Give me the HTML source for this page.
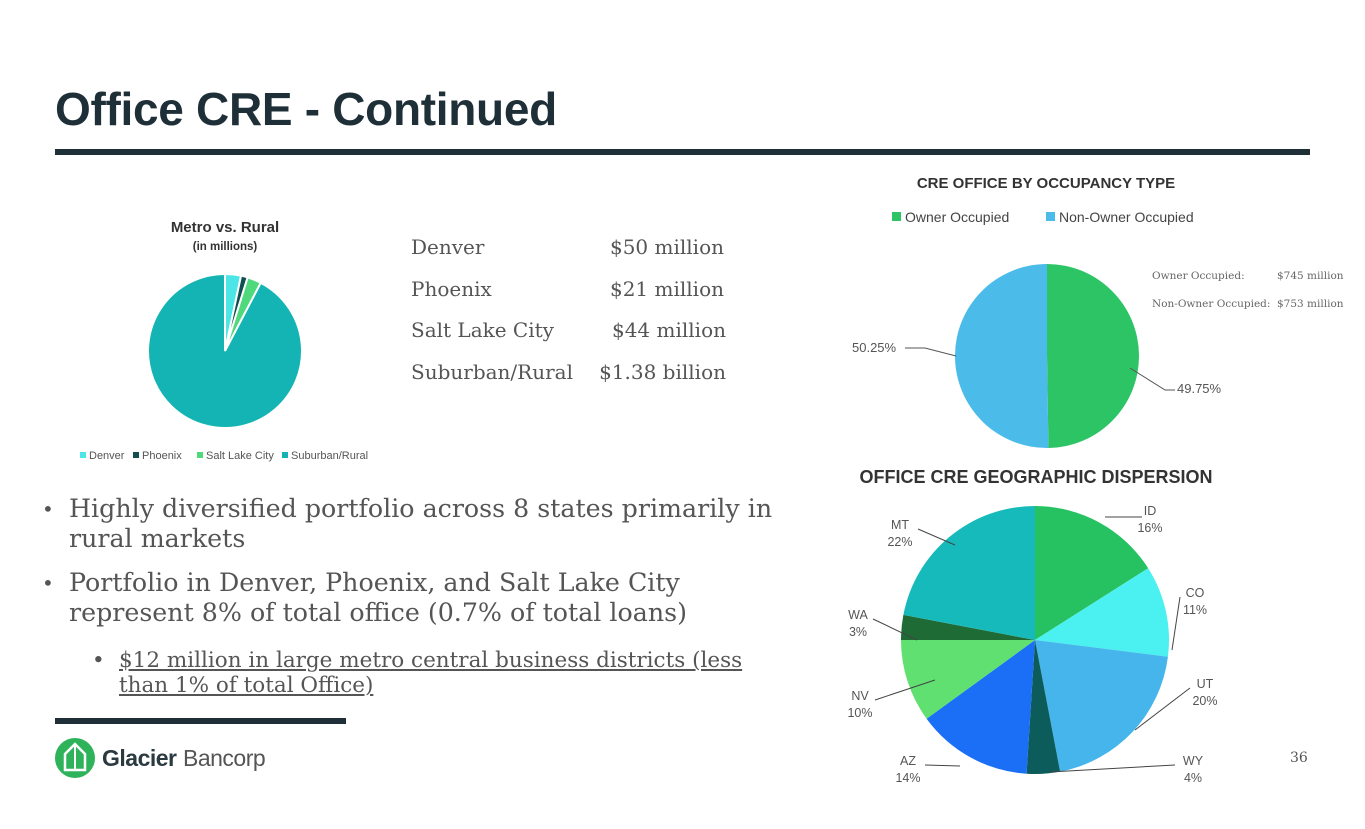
<!DOCTYPE html>
<html><head><meta charset="utf-8"><style>
body{margin:0;width:1365px;height:829px;background:#fff;position:relative;overflow:hidden;font-family:"Liberation Sans",sans-serif;}
.abs{position:absolute;}
.serif{font-family:"DejaVu Serif","Liberation Serif",serif;color:#555;}
.row{position:relative;height:41.5px;white-space:nowrap;}
.val{position:absolute;right:0;top:0;}
</style></head><body>
<div class="abs" style="left:55px;top:82px;font-size:46px;font-weight:bold;color:#1e2f38;letter-spacing:-0.3px;">Office CRE - Continued</div>
<div class="abs" style="left:55px;top:149px;width:1255px;height:6px;background:#1e2f38;"></div>
<div class="abs" style="left:55px;top:718px;width:291px;height:6px;background:#1e2f38;"></div>

<div class="abs serif" style="left:411px;top:227px;width:315px;font-size:20px;line-height:41.5px;">
<div class="row">Denver<span class="val" style="right:2px">$50 million</span></div>
<div class="row">Phoenix<span class="val" style="right:2px">$21 million</span></div>
<div class="row">Salt Lake City<span class="val">$44 million</span></div>
<div class="row">Suburban/Rural<span class="val">$1.38 billion</span></div>
</div>

<div class="abs serif" style="left:42px;top:494px;width:745px;font-size:25.3px;line-height:30px;">
<div style="position:relative;padding-left:27px;margin-bottom:14px;"><span class="abs" style="left:0;font-size:20px">•</span>Highly diversified portfolio across 8 states primarily in rural markets</div>
<div style="position:relative;padding-left:27px;margin-bottom:20px;"><span class="abs" style="left:0;font-size:20px">•</span>Portfolio in Denver, Phoenix, and Salt Lake City represent 8% of total office (0.7% of total loans)</div>
<div style="position:relative;padding-left:77px;font-size:21.5px;line-height:25px;width:645px;"><span class="abs" style="left:50px">•</span><span style="text-decoration:underline;">$12 million in large metro central business districts (less than 1% of total Office)</span></div>
</div>

<div class="abs" style="left:1290px;top:750px;font-size:14px;color:#555;font-family:'DejaVu Serif',serif;">36</div>

<svg class="abs" style="left:52px;top:737px" width="220" height="42">
<circle cx="23" cy="21" r="20" fill="#2fb35a"/>
<path d="M23 7 L13 17 L13 33 L33 33 L33 17 Z" fill="none" stroke="#fff" stroke-width="2.5"/>
<line x1="23" y1="9" x2="23" y2="33" stroke="#fff" stroke-width="2"/>
<text x="50" y="29" font-size="23" font-weight="bold" fill="#2a3a40" font-family="Liberation Sans" letter-spacing="-0.5">Glacier</text>
<text x="131" y="29" font-size="23" fill="#555" font-family="Liberation Sans" letter-spacing="-0.5">Bancorp</text>
</svg>

<svg class="abs" style="left:0;top:0" width="1365" height="829" id="charts">
<text x="225" y="232" text-anchor="middle" font-size="15" font-weight="bold" fill="#333">Metro vs. Rural</text>
<text x="225" y="250" text-anchor="middle" font-size="11.5" font-weight="bold" fill="#333">(in millions)</text>
<g id="metro"></g>
<g id="metroLegend"></g>
<text x="1046" y="188" text-anchor="middle" font-size="15" font-weight="bold" fill="#333">CRE OFFICE BY OCCUPANCY TYPE</text>
<g id="occLegend"></g>
<text x="1152" y="279" font-size="10.5" fill="#666" font-family="DejaVu Serif">Owner Occupied:</text>
<text x="1277" y="279" font-size="10.5" fill="#666" font-family="DejaVu Serif">$745 million</text>
<text x="1152" y="307" font-size="10.5" fill="#666" font-family="DejaVu Serif">Non-Owner Occupied:</text>
<text x="1277" y="307" font-size="10.5" fill="#666" font-family="DejaVu Serif">$753 million</text>
<g id="occ"></g>
<text x="1036" y="483" text-anchor="middle" font-size="18" font-weight="bold" fill="#333">OFFICE CRE GEOGRAPHIC DISPERSION</text>
<g id="geo"></g>
</svg>

<script>
const metroCats=["Denver","Phoenix","Salt Lake City","Suburban/Rural"];
const metroVals=[50,21,44,1380];
const metroColors=["#4de6e6","#0f4f4f","#4fd97c","#14b4b4"];
const occCats=["Owner Occupied","Non-Owner Occupied"];
const occVals=[49.75,50.25];
const occLabels=["49.75%","50.25%"];
const geoCats=["ID","CO","UT","WY","AZ","NV","WA","MT"];
const geoVals=[16,11,20,4,14,10,3,22];
const geoColors=["#26c262","#4bf0f0","#45b5eb","#0d5c5c","#1a6ff6","#5fe070","#1e6b36","#17baba"];
const NS="http://www.w3.org/2000/svg";
function mk(tag,attrs,parent){const e=document.createElementNS(NS,tag);for(const k in attrs)e.setAttribute(k,attrs[k]);parent.appendChild(e);return e;}
function pt(cx,cy,r,a){return [cx+r*Math.sin(a),cy-r*Math.cos(a)];}
function pie(g,cx,cy,r,vals,colors,stroke,name){
  const tot=vals.reduce((a,b)=>a+b,0);let a=0;const mids=[];
  vals.forEach((v,i)=>{const a2=a+v/tot*2*Math.PI;const p1=pt(cx,cy,r,a),p2=pt(cx,cy,r,a2);
    const p=mk('path',{d:`M${cx},${cy}L${p1[0]},${p1[1]}A${r},${r} 0 ${a2-a>Math.PI?1:0} 1 ${p2[0]},${p2[1]}Z`,fill:colors[i],stroke:stroke,'stroke-width':stroke=='none'?0:2},g);
    
    
    mids.push((a+a2)/2);a=a2;});
  return mids;
}
pie(document.getElementById('metro'),225,351,77,metroVals,metroColors,"#fff","metro");
const ml=document.getElementById('metroLegend');
let lx=[80,133,197,282];
metroCats.forEach((c,i)=>{mk('rect',{x:lx[i],y:452,width:6,height:6,fill:metroColors[i]},ml);
  const t=mk('text',{x:lx[i]+9,y:459,'font-size':11,fill:'#555'},ml);t.textContent=c;
  
  });
const occColors=["#2dc466","#4bbcea"];
const og=document.getElementById('occ');
pie(og,1047,356,92,occVals,occColors,"none","occupancy");
mk('path',{d:`M1130,368 L1165,390 L1175,390`,fill:'none',stroke:'#555','stroke-width':1},og);
let t1=mk('text',{x:1177,y:393,'font-size':13,fill:'#555'},og);t1.textContent=occLabels[0];
mk('path',{d:`M956,356 L925,348 L905,348`,fill:'none',stroke:'#555','stroke-width':1},og);
let t2=mk('text',{x:852,y:352,'font-size':13,fill:'#555'},og);t2.textContent=occLabels[1];
const ol=document.getElementById('occLegend');
[[892,"Owner Occupied"],[1046,"Non-Owner Occupied"]].forEach((d,i)=>{mk('rect',{x:d[0],y:212,width:9,height:9,fill:occColors[i]},ol);
  const t=mk('text',{x:d[0]+13,y:222,'font-size':14,fill:'#444'},ol);t.textContent=occCats[i];
  
  });
const gg=document.getElementById('geo');
pie(gg,1035,640,134,geoVals,geoColors,"none","geo");
const geoLab=[[1150,515,1105,517,1142,517],[1195,597,1172,650,1180,597],[1205,688,1135,730,1190,688],[1193,765,1050,772,1175,765],[908,765,960,766,925,765],[860,700,935,680,875,700],[858,619,917,640,873,619],[900,529,955,545,918,529]];
geoCats.forEach((c,i)=>{const L=geoLab[i];
  mk('path',{d:`M${L[2]},${L[3]} L${L[4]},${L[5]}`,fill:'none',stroke:'#444','stroke-width':1},gg);
  const t=mk('text',{x:L[0],y:L[1],'font-size':12.5,fill:'#555','text-anchor':'middle'},gg);t.textContent=c;
  const t2=mk('text',{x:L[0],y:L[1]+17,'font-size':12.5,fill:'#555','text-anchor':'middle'},gg);t2.textContent=geoVals[i]+'%';
  
  });
</script>
</body></html>
